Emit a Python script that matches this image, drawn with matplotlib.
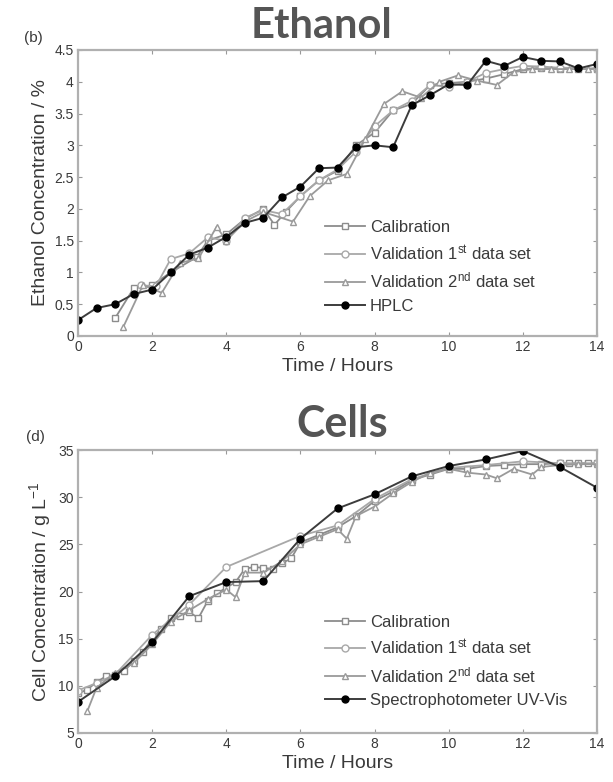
import matplotlib
matplotlib.use("Agg")
import matplotlib.pyplot as plt

# ---------------- Ethanol data ----------------
eth_hplc_t = [0, 0.5, 1, 1.5, 2, 2.5, 3, 3.5, 4, 4.5, 5, 5.5, 6, 6.5, 7, 7.5, 8, 8.5,
              9, 9.5, 10, 10.5, 11, 11.5, 12, 12.5, 13, 13.5, 14]
eth_hplc_y = [0.25, 0.44, 0.5, 0.66, 0.73, 1.0, 1.28, 1.39, 1.56, 1.78, 1.86, 2.18, 2.35,
              2.64, 2.65, 2.97, 3.0, 2.97, 3.63, 3.79, 3.96, 3.95, 4.33, 4.25, 4.39, 4.33,
              4.32, 4.21, 4.28]

eth_cal_t = [1.0, 1.5, 2.0, 2.5, 3.2, 3.5, 4.0, 4.5, 5.0, 5.3, 5.6, 6.0, 6.5, 7.0, 7.5,
             8.0, 8.5, 9.0, 9.5, 10.0, 10.5, 11.0, 11.5, 12.0, 12.5, 13.0, 13.5, 14.0]
eth_cal_y = [0.28, 0.75, 0.8, 1.0, 1.24, 1.5, 1.6, 1.84, 2.0, 1.75, 1.95, 2.2, 2.45, 2.6,
             3.0, 3.2, 3.55, 3.65, 3.95, 3.98, 4.0, 4.05, 4.12, 4.2, 4.22, 4.2, 4.2, 4.2]

eth_val1_t = [1.7, 2.1, 2.5, 3.0, 3.5, 4.0, 4.5, 5.0, 5.5, 6.0, 6.5, 7.0, 7.5, 8.0, 8.5,
              9.0, 9.5, 10.0, 10.5, 11.0, 11.5, 12.0, 12.5, 13.0, 13.5, 14.0]
eth_val1_y = [0.8, 0.78, 1.21, 1.3, 1.55, 1.5, 1.86, 1.98, 1.92, 2.2, 2.45, 2.62, 2.9,
              3.3, 3.55, 3.7, 3.95, 3.92, 4.0, 4.14, 4.2, 4.25, 4.24, 4.22, 4.22, 4.2]

eth_val2_t = [1.22, 1.75, 2.26, 2.75, 3.25, 3.74, 4.0, 4.5, 5.0, 5.8, 6.25, 6.75, 7.25,
              7.75, 8.25, 8.75, 9.25, 9.75, 10.25, 10.75, 11.3, 11.75, 12.25, 12.75,
              13.25, 13.75, 14.0]
eth_val2_y = [0.14, 0.8, 0.68, 1.15, 1.22, 1.72, 1.5, 1.8, 1.95, 1.8, 2.2, 2.45, 2.55,
              3.1, 3.65, 3.85, 3.75, 4.0, 4.1, 4.02, 3.95, 4.15, 4.2, 4.2, 4.2, 4.2, 4.22]

# ---------------- Cells data ----------------
cell_uv_t = [0, 1, 2, 3, 4, 5, 6, 7, 8, 9, 10, 11, 12, 13, 14]
cell_uv_y = [8.3, 11.0, 14.6, 19.5, 21.0, 21.1, 25.6, 28.8, 30.3, 32.2, 33.3, 34.0,
             34.9, 33.2, 31.0]

cell_cal_t = [0, 0.25, 0.5, 0.75, 1.0, 1.25, 1.5, 1.75, 2.0, 2.25, 2.5, 2.75, 3.0, 3.25,
              3.5, 3.75, 4.0, 4.25, 4.5, 4.75, 5.0, 5.25, 5.5, 5.75, 6.0, 6.5, 7.0, 7.5,
              8.0, 8.5, 9.0, 9.5, 10.0, 10.5, 11.0, 11.5, 12.0, 12.5, 13.0, 13.25, 13.5,
              13.75, 14.0]
cell_cal_y = [9.2, 9.6, 10.4, 11.0, 11.2, 11.6, 12.6, 13.6, 15.0, 16.0, 17.2, 17.4, 17.8,
              17.2, 19.0, 19.8, 20.4, 21.0, 22.4, 22.6, 22.5, 22.4, 23.0, 23.5, 25.2, 26.0,
              26.8, 28.0, 29.6, 30.6, 31.8, 32.4, 33.0, 33.0, 33.3, 33.4, 33.5, 33.5, 33.6,
              33.6, 33.6, 33.6, 33.6]

cell_val1_t = [0, 0.5, 1.0, 2.0, 3.0, 4.0, 6.0, 7.0, 8.0, 9.0, 10.0, 11.0, 12.0, 13.0, 14.0]
cell_val1_y = [9.5, 10.3, 11.2, 15.4, 18.6, 22.6, 25.9, 27.0, 29.8, 31.9, 33.1, 33.4,
               33.8, 33.6, 33.6]

cell_val2_t = [0.25, 0.5, 1.0, 1.5, 2.0, 2.5, 3.0, 3.5, 4.0, 4.25, 4.5, 5.0, 5.5, 6.0, 6.5,
               7.0, 7.25, 7.5, 8.0, 8.5, 9.0, 9.5, 10.0, 10.5, 11.0, 11.3, 11.75, 12.25,
               12.5, 13.0, 13.5, 14.0]
cell_val2_y = [7.3, 9.8, 11.4, 12.4, 14.4, 16.8, 18.0, 19.2, 20.2, 19.4, 22.0, 22.0, 23.2,
               25.0, 25.8, 26.6, 25.6, 28.0, 29.0, 30.4, 31.6, 32.6, 33.0, 32.6, 32.4, 32.0,
               33.0, 32.4, 33.2, 33.4, 33.5, 33.5]

x_ticks = [0, 2, 4, 6, 8, 10, 12, 14]
eth_ticks = [0, 0.5, 1, 1.5, 2, 2.5, 3, 3.5, 4, 4.5]
eth_ticklabels = ["0", "0.5", "1", "1.5", "2", "2.5", "3", "3.5", "4", "4.5"]
cell_ticks = [5, 10, 15, 20, 25, 30, 35]

labels_top = ["Calibration", "Validation 1$^{st}$ data set",
              "Validation 2$^{nd}$ data set", "HPLC"]
labels_bot = ["Calibration", "Validation 1$^{st}$ data set",
              "Validation 2$^{nd}$ data set", "Spectrophotometer UV-Vis"]

plt.rcParams['font.family'] = ['Liberation Sans', 'DejaVu Sans']
plt.rcParams['mathtext.default'] = 'regular'

TXT = '#3a3a3a'
GRAY1 = '#8c8c8c'
GRAY2 = '#a8a8a8'
GRAY3 = '#9a9a9a'

fig = plt.figure(figsize=(6.13, 7.82), dpi=100)
W, H = 613.0, 782.0


def make_axes(top_px, bottom_px):
    return fig.add_axes([78 / W, (H - bottom_px) / H, (597 - 78) / W,
                         (bottom_px - top_px) / H])


def style(ax):
    for s in ax.spines.values():
        s.set_color('#b0b0b0')
        s.set_linewidth(1.6)
    ax.tick_params(direction='in', top=True, right=True, length=3,
                   color='#999999', labelsize=10, labelcolor=TXT, pad=3)
    ax.set_xlim(0, 14)
    ax.set_xticks(x_ticks)
    ax.set_xlabel('Time / Hours', fontsize=14, color=TXT, labelpad=3)


def draw(ax, data, labels, legend_anchor):
    (ct, cy), (v1t, v1y), (v2t, v2y), (rt, ry) = data
    ax.plot(ct, cy, '-s', color=GRAY1, mfc='white', mec=GRAY1, ms=4, lw=1.3,
            label=labels[0])
    ax.plot(v1t, v1y, '-o', color=GRAY2, mfc='white', mec=GRAY2, ms=5, lw=1.3,
            label=labels[1])
    ax.plot(v2t, v2y, '-^', color=GRAY3, mfc='white', mec=GRAY3, ms=5, lw=1.3,
            label=labels[2])
    ax.plot(rt, ry, '-o', color='#3c3c3c', mfc='black', mec='black', ms=5, lw=1.4,
            label=labels[3])
    leg = ax.legend(loc='upper left', bbox_to_anchor=legend_anchor, frameon=False,
                    fontsize=12, handlelength=2.4, handletextpad=0.3,
                    labelspacing=0.48, borderaxespad=0, borderpad=0)
    for t in leg.get_texts():
        t.set_color(TXT)


# --- Ethanol ---
ax1 = make_axes(50, 336)
draw(ax1, [(eth_cal_t, eth_cal_y), (eth_val1_t, eth_val1_y),
           (eth_val2_t, eth_val2_y), (eth_hplc_t, eth_hplc_y)], labels_top,
     (0.476, 0.405))
style(ax1)
ax1.set_ylim(0, 4.5)
ax1.set_yticks(eth_ticks)
ax1.set_yticklabels(eth_ticklabels)
ax1.set_ylabel('Ethanol Concentration / %', fontsize=14, color=TXT, labelpad=4)

# --- Cells ---
ax2 = make_axes(450, 733)
draw(ax2, [(cell_cal_t, cell_cal_y), (cell_val1_t, cell_val1_y),
           (cell_val2_t, cell_val2_y), (cell_uv_t, cell_uv_y)], labels_bot,
     (0.476, 0.418))
style(ax2)
ax2.set_ylim(5, 35)
ax2.set_yticks(cell_ticks)
ax2.set_ylabel('Cell Concentration / g L$^{-1}$', fontsize=14, color=TXT, labelpad=4)

# Titles and panel letters
fig.text(322 / W, 1 - 26 / H, 'Ethanol', ha='center', va='center', fontsize=30,
         fontweight='bold', family='Lato', color='#555555')
fig.text(342 / W, 1 - 424 / H, 'Cells', ha='center', va='center', fontsize=31,
         fontweight='bold', family='Lato', color='#555555')
fig.text(33 / W, 1 - 38 / H, '(b)', ha='center', va='center', fontsize=11,
         color=TXT)
fig.text(35 / W, 1 - 437 / H, '(d)', ha='center', va='center', fontsize=11,
         color=TXT)

fig.savefig('out.png', dpi=100)
